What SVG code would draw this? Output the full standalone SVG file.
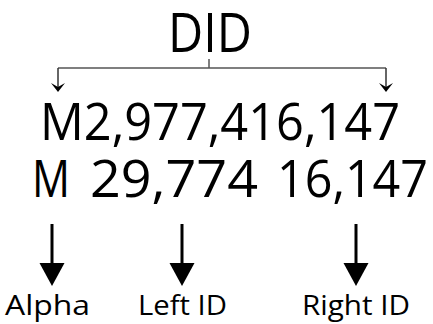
<svg xmlns="http://www.w3.org/2000/svg" width="433" height="324" viewBox="0 0 433 324">
<style>
text{font-family:"Open Sans","Noto Sans","Liberation Sans",sans-serif;fill:#000}
.big{font-size:52px}
.lbl{font-size:28px}
.thin{stroke:#555;stroke-width:1.5;fill:none}
.thick{stroke:#000;stroke-width:3;fill:none}
.head{fill:#000}
</style>
<g id="did"><text x="210" y="52" font-size="54" text-anchor="middle" textLength="84" lengthAdjust="spacingAndGlyphs">DID</text></g>
<g id="full"><text class="big" x="40" y="140" textLength="360" lengthAdjust="spacingAndGlyphs">M2,977,416,147</text></g>
<g id="alpha-part"><text class="big" x="32" y="197" textLength="38" lengthAdjust="spacingAndGlyphs">M</text></g>
<g id="left-part"><text class="big" x="90" y="197" textLength="168" lengthAdjust="spacingAndGlyphs">29,774</text></g>
<g id="right-part"><text class="big" x="277" y="197" textLength="151" lengthAdjust="spacingAndGlyphs">16,147</text></g>
<g id="lbl-alpha"><text class="lbl" x="5" y="315" textLength="85" lengthAdjust="spacingAndGlyphs">Alpha</text></g>
<g id="lbl-left"><text class="lbl" x="138" y="315" textLength="89" lengthAdjust="spacingAndGlyphs">Left ID</text></g>
<g id="lbl-right"><text class="lbl" x="302" y="315" textLength="108" lengthAdjust="spacingAndGlyphs">Right ID</text></g>
<g id="connectors">
<path class="thin" d="M209,59 V68"/>
<path class="thin" d="M58,68 H386"/>
<line x1="58" y1="68" x2="58" y2="90" stroke="#333" stroke-width="1.5"/>
<path class="head" d="M51,83 L58,92 L65,83 L58,87 Z"/>
<line x1="386" y1="68" x2="386" y2="90" stroke="#333" stroke-width="1.5"/>
<path class="head" d="M379,83 L386,92 L393,83 L386,87 Z"/>
<line class="thick" x1="52" y1="224" x2="52" y2="265"/>
<path class="head" d="M39.5,263 L64.5,263 L52,286 Z"/>
<line class="thick" x1="182" y1="224" x2="182" y2="265"/>
<path class="head" d="M169.5,263 L194.5,263 L182,286 Z"/>
<line class="thick" x1="356" y1="224" x2="356" y2="265"/>
<path class="head" d="M343.5,263 L368.5,263 L356,286 Z"/>
</g>
</svg>
